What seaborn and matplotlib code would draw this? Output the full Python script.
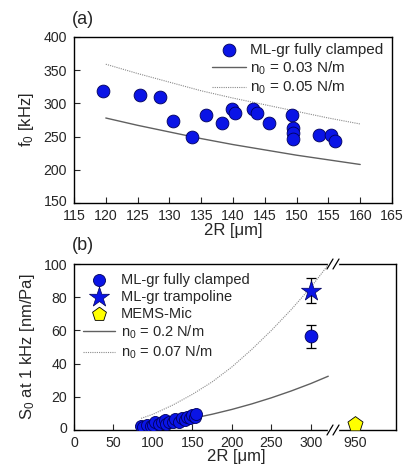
import numpy as np
import pandas as pd
import matplotlib
matplotlib.use("Agg")
import matplotlib.pyplot as plt
import matplotlib.transforms as mtrans
import seaborn as sns

sns.set_style("ticks")
plt.rcParams['font.family'] = ['Liberation Sans', 'DejaVu Sans']
plt.rcParams['mathtext.fontset'] = 'custom'
plt.rcParams['mathtext.rm'] = 'Liberation Sans'
plt.rcParams['mathtext.it'] = 'Liberation Sans'

# ---------------- data panel (a) ----------------
a_d = [119.5, 125.3, 128.5, 130.6, 133.5, 135.8, 138.3, 139.8, 140.3, 143.2,
       143.8, 145.7, 149.2, 149.4, 149.4, 149.4, 153.6, 155.4, 156.1]
a_f = [318, 312, 310, 274, 250, 282, 271, 292, 285, 292,
       285, 270, 282, 263, 256, 246, 253, 252, 244]
a_line_x = [120, 125, 130, 135, 140, 145, 150, 155, 160]
a_line_003 = [278, 267, 257, 247, 238, 230, 222, 215, 208]
a_line_005 = [359, 345, 332, 319, 308, 298, 288, 278, 269]

# ---------------- data panel (b) ----------------
b_d = [85, 87, 93, 97, 100, 103, 108, 112, 115, 117, 120, 125, 128, 133,
       137, 140, 143, 147, 150, 153, 155]
b_s = [2.5, 2.0, 3.0, 2.5, 3.2, 5.0, 3.5, 5.0, 6.0, 3.5, 5.0, 5.0, 6.5, 5.0,
       7.0, 6.0, 8.0, 7.5, 9.0, 8.0, 9.5]
b_big_d = [300]
b_big_s = [56.5]
b_big_err = [7]
tramp_d = [300]
tramp_s = [84]
tramp_err = [7.5]
mems_d = [950]
mems_s = [3.5]
b_line_x = [85, 100, 125, 150, 175, 200, 225, 250, 275, 300, 322]
b_line_02 = [2.3, 3.1, 4.9, 7.0, 9.5, 12.4, 15.7, 19.4, 23.5, 28.0, 32.4]
b_line_007 = [7.0, 9.5, 15.0, 21.5, 29.0, 38.0, 48.5, 60.0, 72.5, 86.0, 99.5]

blue = "#0a14e6"
edge = "#00005a"

fig = plt.figure(figsize=(4.06, 4.68), dpi=100)
W, H = 406, 468
def rect(x0, y0, x1, y1):
    return [x0 / W, 1 - y1 / H, (x1 - x0) / W, (y1 - y0) / H]

def style_ticks(ax):
    ax.tick_params(direction='in', labelsize=10.2, length=4, width=0.8)
    ax.tick_params(axis='x', pad=4)
    ax.tick_params(axis='y', pad=5)

def lift_bottom_ylabel(ax, px=2.5):
    labs = ax.get_yticklabels()
    if labs:
        off = mtrans.ScaledTranslation(0, px / 100, fig.dpi_scale_trans)
        labs[0].set_transform(labs[0].get_transform() + off)

# ---------------- panel (a) ----------------
axa = fig.add_axes(rect(74, 37, 392, 203))
sns.scatterplot(x=a_d, y=a_f, ax=axa, marker='o', s=85, color=blue,
                edgecolor=edge, linewidth=0.6, label='ML-gr fully clamped', zorder=3)
sns.lineplot(x=a_line_x, y=a_line_003, ax=axa, color='#606060', lw=1.0,
             label=r'n$_0$ = 0.03 N/m', zorder=2)
sns.lineplot(x=a_line_x, y=a_line_005, ax=axa, color='#8a8a8a', lw=0.8,
             linestyle=(0, (1, 1)), label=r'n$_0$ = 0.05 N/m', zorder=2)
axa.set_xlim(115, 165)
axa.set_ylim(150, 400)
axa.set_xticks(np.arange(115, 166, 5))
axa.set_yticks(np.arange(150, 401, 50))
style_ticks(axa)
axa.set_xlabel('2R [μm]', fontsize=12, labelpad=0)
axa.set_ylabel(r'f$_0$ [kHz]', fontsize=12, labelpad=5)
for sp in axa.spines.values():
    sp.set_linewidth(1.0)
    sp.set_color('black')
axa.legend(loc='upper right', frameon=False, fontsize=11, handlelength=2.2,
           handletextpad=0.25, borderaxespad=0.1, labelspacing=0.15,
           bbox_to_anchor=(0.995, 1.01))
fig.text(72 / W, 1 - 20 / H, '(a)', fontsize=13, va='center', ha='left')
lift_bottom_ylabel(axa)

# ---------------- panel (b) ----------------
axb = fig.add_axes(rect(74, 264, 333, 430))
axc = fig.add_axes(rect(333, 264, 396, 430))

sns.scatterplot(x=b_d, y=b_s, ax=axb, marker='o', s=75, color=blue,
                edgecolor=edge, linewidth=0.6, label='ML-gr fully clamped', zorder=3)
sns.scatterplot(x=tramp_d, y=tramp_s, ax=axb, marker='*', s=230, color=blue,
                edgecolor=edge, linewidth=0.5, label='ML-gr trampoline', zorder=4)
# MEMS legend entry (point lies outside the left range; drawn on the right axes)
sns.scatterplot(x=mems_d, y=mems_s, ax=axb, marker='p', s=110, color='#ffff00',
                edgecolor='black', linewidth=0.6, label='MEMS-Mic', zorder=4)
sns.lineplot(x=b_line_x, y=b_line_02, ax=axb, color='#606060', lw=1.0,
             label=r'n$_0$ = 0.2 N/m', zorder=2)
sns.lineplot(x=b_line_x, y=b_line_007, ax=axb, color='#8a8a8a', lw=0.8,
             linestyle=(0, (1, 1)), label=r'n$_0$ = 0.07 N/m', zorder=2)
sns.scatterplot(x=b_big_d, y=b_big_s, ax=axb, marker='o', s=85, color=blue,
                edgecolor=edge, linewidth=0.6, zorder=4, legend=False)
axb.errorbar(b_big_d, b_big_s, yerr=b_big_err, fmt='none', ecolor='black',
             elinewidth=0.9, capsize=3.5, capthick=0.9, zorder=3)
axb.errorbar(tramp_d, tramp_s, yerr=tramp_err, fmt='none', ecolor='black',
             elinewidth=0.9, capsize=3.5, capthick=0.9, zorder=3)

sns.scatterplot(x=mems_d, y=mems_s, ax=axc, marker='p', s=130, color='#ffff00',
                edgecolor='black', linewidth=0.6, zorder=4, legend=False)

axb.set_xlim(0, 328)
axc.set_xlim(922, 1002)
for ax in (axb, axc):
    ax.set_ylim(0, 100)
    style_ticks(ax)
    for sp in ax.spines.values():
        sp.set_linewidth(1.0)
        sp.set_color('black')
axb.set_xticks(np.arange(0, 301, 50))
axb.set_yticks(np.arange(0, 101, 20))
axc.set_xticks([950])
axc.set_yticks([])
axb.spines['right'].set_visible(False)
axc.spines['left'].set_visible(False)
axc.tick_params(axis='y', left=False, labelleft=False)
lift_bottom_ylabel(axb)

axb.set_xlabel('')
axc.set_xlabel('')
fig.text(236 / W, 1 - 457 / H, '2R [μm]', fontsize=12, ha='center', va='center')
axb.set_ylabel(r'S$_0$ at 1 kHz [nm/Pa]', fontsize=12, labelpad=5)

axb.legend(loc='upper left', frameon=False, fontsize=10.5, handlelength=2.2,
           handletextpad=0.4, borderaxespad=0.2, labelspacing=0.2,
           bbox_to_anchor=(0.0, 1.0))
fig.text(72 / W, 1 - 245 / H, '(b)', fontsize=13, va='center', ha='left')

# break marks
for yy in (264, 430):
    fig.add_artist(plt.Line2D([329 / W, 337 / W], [1 - yy / H, 1 - yy / H],
                              color='white', lw=2.5, zorder=10))
    for dx in (-3, 3):
        x0 = (333 + dx - 3) / W
        x1 = (333 + dx + 3) / W
        fig.add_artist(plt.Line2D([x0, x1], [1 - (yy + 5) / H, 1 - (yy - 5) / H],
                                  color='black', lw=0.9, zorder=11))

fig.savefig('out.png', dpi=100)
